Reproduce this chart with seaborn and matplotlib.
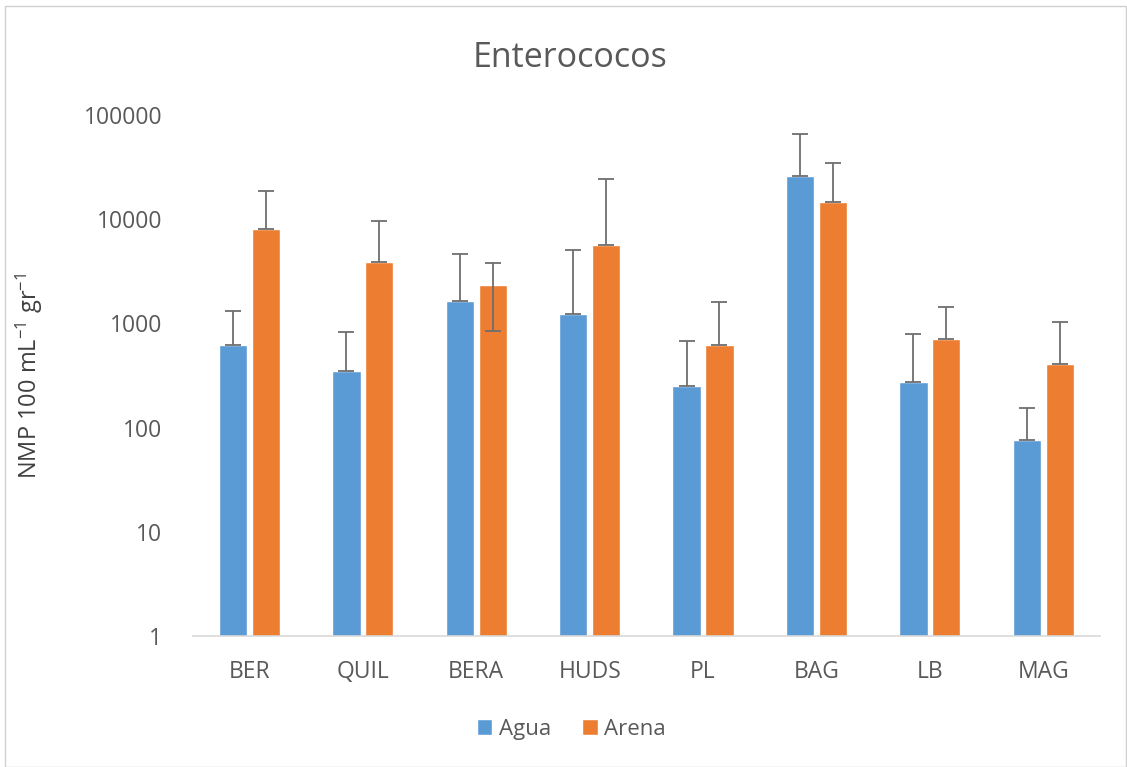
import numpy as np
import pandas as pd
import matplotlib
matplotlib.use('Agg')
import matplotlib.pyplot as plt
import seaborn as sns
from matplotlib.patches import Rectangle

sites = ['BER', 'QUIL', 'BERA', 'HUDS', 'PL', 'BAG', 'LB', 'MAG']
agua = [621, 349, 1640, 1232, 251, 26000, 274, 76]
arena = [8050, 3883, 2337, 5655, 621, 14600, 708, 408]
# error bar tops (absolute values)
agua_top = [1315, 827, 4630, 5060, 678, 65700, 791, 154]
arena_top = [18700, 9600, 3800, 24300, 1604, 34600, 1437, 1031]
# only BERA/Arena shows a lower whisker
arena_bottom = [8050, 3883, 845, 5655, 621, 14600, 708, 408]

blue = '#5B9BD5'
orange = '#ED7D31'
grey_txt = '#595959'

df = pd.DataFrame({
    'site': sites * 2,
    'value': agua + arena,
    'tipo': ['Agua'] * len(sites) + ['Arena'] * len(sites),
})

sns.set_style('white')
plt.rcParams['font.family'] = ['Open Sans', 'DejaVu Sans']
plt.rcParams['mathtext.default'] = 'regular'

fig = plt.figure(figsize=(11.27, 7.67), dpi=100)
ax = fig.add_axes([0.171, 0.1708, 0.805, 0.6792])

sns.barplot(data=df, x='site', y='value', hue='tipo', order=sites,
            hue_order=['Agua', 'Arena'], palette=[blue, orange],
            width=0.58, gap=0.14, errorbar=None, saturation=1, ax=ax)

ax.set_yscale('log')
ax.set_ylim(1, 100000)
ax.set_xlim(-0.5, len(sites) - 0.5)
ax.set_yticks([1, 10, 100, 1000, 10000, 100000])
ax.set_yticklabels(['1', '10', '100', '1000', '10000', '100000'])
ax.minorticks_off()

# error bars on top of the bars
bars = [p for p in ax.patches if p.get_width() > 0]
n = len(sites)
for i, p in enumerate(bars[:2 * n]):
    xc = p.get_x() + p.get_width() / 2
    if i < n:
        val, top, bot = agua[i], agua_top[i], agua[i]
    else:
        j = i - n
        val, top, bot = arena[j], arena_top[j], arena_bottom[j]
    ax.errorbar(xc, val, yerr=[[val - bot], [top - val]], fmt='none',
                ecolor='#6E6E6E', elinewidth=1.3, capsize=6, capthick=1.3)

sns.despine(ax=ax, left=True, top=True, right=True)
ax.spines['bottom'].set_color('#D9D9D9')
ax.spines['bottom'].set_linewidth(1.2)
ax.tick_params(axis='both', length=0, labelsize=16.5, colors=grey_txt)
ax.tick_params(axis='y', pad=22)
ax.tick_params(axis='x', pad=17)
ax.set_xlabel('')
ax.set_ylabel('NMP 100 mL$^{-1}$ gr$^{-1}$', fontsize=17, color='#404040', labelpad=28)

fig.text(0.506, 0.924, 'Enterococos', ha='center', va='center', fontsize=24.5, color=grey_txt)

handles, labels = ax.get_legend_handles_labels()
ax.legend_.remove()
leg = fig.legend(handles, labels, loc='center', bbox_to_anchor=(0.507, 0.049), ncol=2,
                 frameon=False, fontsize=16, handlelength=0.7, handleheight=0.7,
                 handletextpad=0.3, columnspacing=1.4)
for t in leg.get_texts():
    t.set_color(grey_txt)

fig.patches.append(Rectangle((0.004, 0.0), 0.995, 0.992, transform=fig.transFigure,
                             fill=False, edgecolor='#D0D0D0', linewidth=1))

fig.savefig('out.png', dpi=100)
